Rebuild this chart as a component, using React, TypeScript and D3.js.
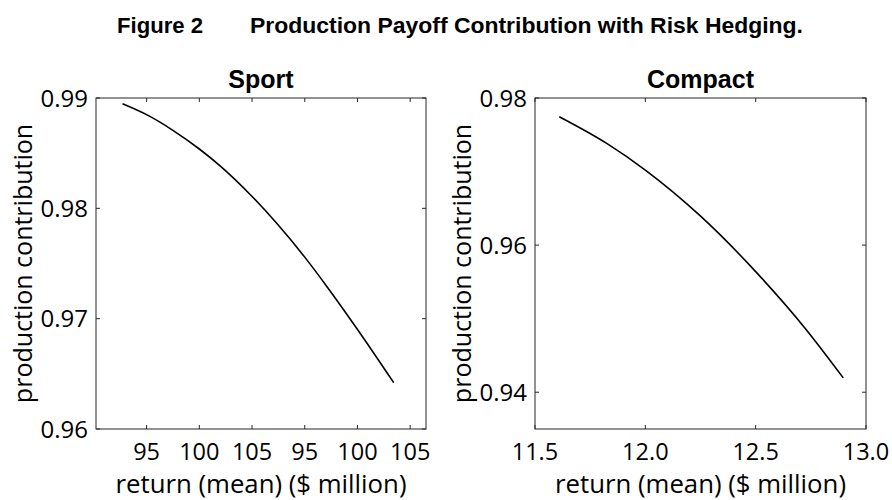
import { scaleLinear, line, curveMonotoneX } from "d3";

// Sport panel (x axis is continuous, labels repeat as in the source figure)
const sportX = [92.72, 95.0, 97.53, 99.97, 101.97, 104.98, 107.36, 109.98, 112.11, 115.02, 118.44];
const sportY = [0.98948, 0.98849, 0.98705, 0.9854, 0.98385, 0.9811, 0.97862, 0.9756, 0.9729, 0.969, 0.9642];
const sportXTicks = [95, 100, 105, 110, 115, 120];
const sportXLabels = ["95", "100", "105", "95", "100", "105"];
const sportYTicks = [0.96, 0.97, 0.98, 0.99];

// Compact panel
const compactX = [11.61, 11.825, 12.0, 12.248, 12.5, 12.731, 12.897];
const compactY = [0.97746, 0.97383, 0.9702, 0.964, 0.9564, 0.94844, 0.94195];
const compactXTicks = [11.5, 12.0, 12.5, 13.0];
const compactXLabels = ["11.5", "12.0", "12.5", "13.0"];
const compactYTicks = [0.94, 0.96, 0.98];

const width = 892;
const height = 500;
const top = 98;
const bottom = 429;
const tickFont = "'Open Sans', 'Noto Sans', sans-serif";
const titleFont = "'Liberation Sans', Arial, sans-serif";

type PanelProps = {
  title: string;
  left: number;
  right: number;
  xDomain: [number, number];
  yDomain: [number, number];
  xs: number[];
  ys: number[];
  xTicks: number[];
  xLabels: string[];
  yTicks: number[];
};

function Panel({ title, left, right, xDomain, yDomain, xs, ys, xTicks, xLabels, yTicks }: PanelProps) {
  const x = scaleLinear().domain(xDomain).range([left, right]);
  const y = scaleLinear().domain(yDomain).range([bottom, top]);
  const path = line<number>()
    .x((d) => x(d))
    .y((_, i) => y(ys[i]))
    .curve(curveMonotoneX)(xs);
  const tl = 4;
  const axisColor = "#262626";

  return (
    <g>
      <rect x={left} y={top} width={right - left} height={bottom - top} fill="none" stroke={axisColor} strokeWidth={1} />
      {xTicks.map((t, i) => (
        <g key={"x" + t}>
          <line x1={x(t)} x2={x(t)} y1={bottom} y2={bottom - tl} stroke={axisColor} />
          <line x1={x(t)} x2={x(t)} y1={top} y2={top + tl} stroke={axisColor} />
          <text x={x(t)} y={460} textAnchor="middle" fontSize={23.5} fontFamily={tickFont} fill="#000">
            {xLabels[i]}
          </text>
        </g>
      ))}
      {yTicks.map((t) => (
        <g key={"y" + t}>
          <line x1={left} x2={left + tl} y1={y(t)} y2={y(t)} stroke={axisColor} />
          <line x1={right} x2={right - tl} y1={y(t)} y2={y(t)} stroke={axisColor} />
          <text x={left - 8} y={y(t)} dy="0.36em" textAnchor="end" fontSize={24} fontFamily={tickFont} fill="#000">
            {t.toFixed(2)}
          </text>
        </g>
      ))}
      <path d={path ?? ""} fill="none" stroke="#000" strokeWidth={1.6} />
      <text x={(left + right) / 2} y={88} textAnchor="middle" fontSize={25} fontWeight="bold" fontFamily={titleFont}>
        {title}
      </text>
      <text x={(left + right) / 2} y={493} textAnchor="middle" fontSize={25} fontFamily={tickFont} fill="#000" textLength={291} lengthAdjust="spacingAndGlyphs">
        return (mean) ($ million)
      </text>
      <text
        transform={`translate(${left - 64},${(top + bottom) / 2}) rotate(-90)`}
        textAnchor="middle"
        fontSize={25}
        fontFamily={tickFont}
        fill="#000">
        production contribution
      </text>
    </g>
  );
}

export default function App() {
  return (
    <div style={{ position: "absolute", left: 0, top: 0 }}>
      <svg width={width} height={height} style={{ display: "block", background: "#fff" }}>
        <text x={117} y={33} fontSize={22} fontWeight="bold" fontFamily={titleFont} textLength={86} lengthAdjust="spacingAndGlyphs">
          Figure 2
        </text>
        <text x={250} y={33} fontSize={22} fontWeight="bold" fontFamily={titleFont} textLength={553} lengthAdjust="spacingAndGlyphs">
          Production Payoff Contribution with Risk Hedging.
        </text>
        <Panel
          title="Sport"
          left={96}
          right={426}
          xDomain={[90.2, 121.5]}
          yDomain={[0.96, 0.99]}
          xs={sportX}
          ys={sportY}
          xTicks={sportXTicks}
          xLabels={sportXLabels}
          yTicks={sportYTicks}
        />
        <Panel
          title="Compact"
          left={535}
          right={866}
          xDomain={[11.5, 13.0]}
          yDomain={[0.935, 0.98]}
          xs={compactX}
          ys={compactY}
          xTicks={compactXTicks}
          xLabels={compactXLabels}
          yTicks={compactYTicks}
        />
      </svg>
    </div>
  );
}
